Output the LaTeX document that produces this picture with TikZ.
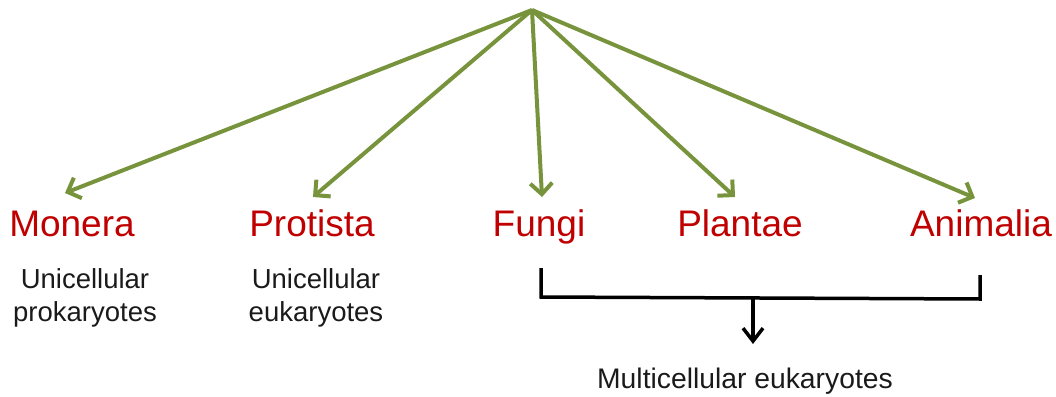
\documentclass[tikz,border=0pt]{standalone}
\usepackage{fontspec}
\setmainfont{Liberation Sans}
\usetikzlibrary{arrows.meta}
\definecolor{kgreen}{HTML}{77933C}
\definecolor{kred}{HTML}{C00000}
\definecolor{ktext}{HTML}{1A1A1A}
\tikzset{
  kingdom/.style={text=kred, font=\fontsize{37}{37}\selectfont, inner sep=0pt, anchor=base},
  desc/.style={text=ktext, font=\fontsize{27.5}{33}\selectfont, inner sep=0pt, align=center, anchor=north},
  branch/.style={draw=kgreen, line width=4pt, -{Straight Barb[length=11pt,width=22pt,line width=4pt]}},
  bracket/.style={draw=black, line width=3.5pt},
  down/.style={draw=black, line width=3.5pt, -{Straight Barb[length=13pt,width=20pt,line width=3.5pt]}}
}
\begin{document}
\begin{tikzpicture}[x=1pt,y=-1pt]
\useasboundingbox (0,0) rectangle (1056,396);
\coordinate (top) at (532,10);
\node[kingdom] (monera) at (72,236) {Monera};
\node[kingdom] (protista) at (312,236) {Protista};
\node[kingdom] (fungi) at (539,236) {Fungi};
\node[kingdom] (plantae) at (740,236) {Plantae};
\node[kingdom] (animalia) at (981,236) {Animalia};
\node[desc] (monerad) at (85,268) {Unicellular\\prokaryotes};
\node[desc] (protistad) at (316,268) {Unicellular\\eukaryotes};
\node[text=ktext, font=\fontsize{28.3}{28.3}\selectfont, inner sep=0pt, anchor=base] (multi) at (745,388) {Multicellular eukaryotes};
\coordinate (tm) at (65,193);
\coordinate (tp) at (313,197);
\coordinate (tf) at (542,197);
\coordinate (tl) at (735,197);
\coordinate (ta) at (975,198);
\draw[branch] (top) -- (tm);
\draw[branch] (top) -- (tp);
\draw[branch] (top) -- (tf);
\draw[branch] (top) -- (tl);
\draw[branch] (top) -- (ta);
\coordinate (bl) at (541,268);
\coordinate (blc) at (541,297);
\coordinate (brc) at (980,299);
\coordinate (br) at (980,275);
\coordinate (bm) at (753,298);
\coordinate (bt) at (753,344);
\draw[bracket] (bl) -- (blc) -- (brc) -- (br);
\draw[down] (bm) -- (bt);
\end{tikzpicture}
\end{document}
